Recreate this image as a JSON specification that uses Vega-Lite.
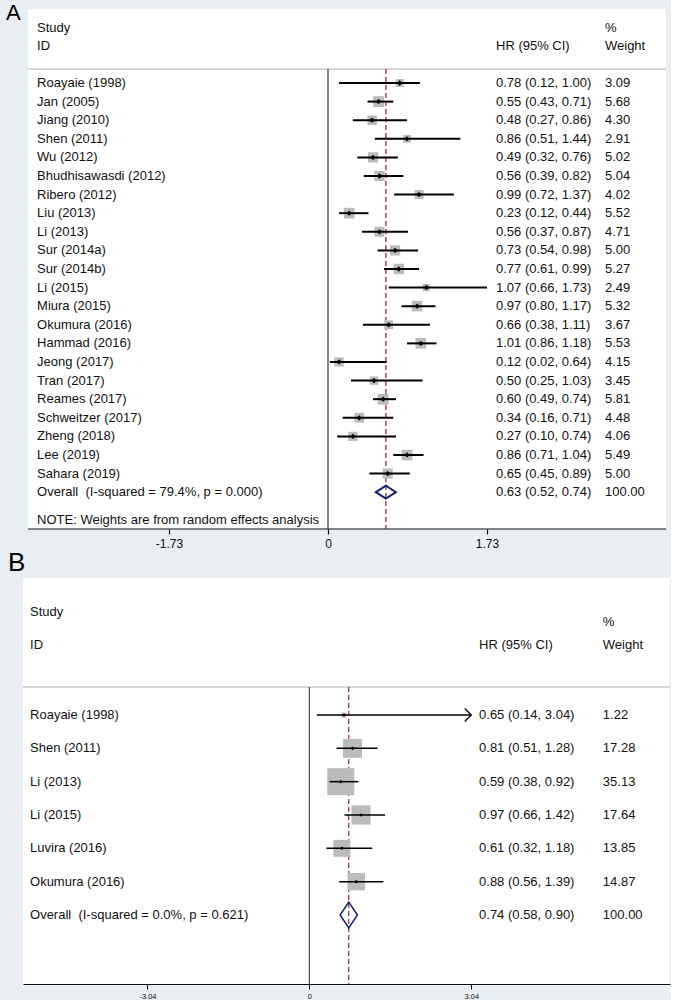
{
  "$schema": "https://vega.github.io/schema/vega-lite/v6.json",
  "background": "#e8eef1",
  "padding": {"left": 5, "top": 1, "right": 0, "bottom": 0},
  "spacing": 0,
  "bounds": "full",
  "config": {
    "view": {"stroke": null, "fill": null},
    "font": "Liberation Sans",
    "text": {"font": "Liberation Sans", "color": "#111111"},
    "axis": {"labelFont": "Liberation Sans", "labelColor": "#111111", "domainColor": "#111111", "tickColor": "#111111", "grid": false, "title": null}
  },
  "datasets": {
    "a": [
      {"row": 1, "kind": "study", "study": "Roayaie (1998)", "hr": 0.78, "lo": 0.12, "hi": 1.00, "w": 3.09, "ci": "0.78 (0.12, 1.00)", "wt": "3.09"},
      {"row": 2, "kind": "study", "study": "Jan (2005)", "hr": 0.55, "lo": 0.43, "hi": 0.71, "w": 5.68, "ci": "0.55 (0.43, 0.71)", "wt": "5.68"},
      {"row": 3, "kind": "study", "study": "Jiang (2010)", "hr": 0.48, "lo": 0.27, "hi": 0.86, "w": 4.30, "ci": "0.48 (0.27, 0.86)", "wt": "4.30"},
      {"row": 4, "kind": "study", "study": "Shen (2011)", "hr": 0.86, "lo": 0.51, "hi": 1.44, "w": 2.91, "ci": "0.86 (0.51, 1.44)", "wt": "2.91"},
      {"row": 5, "kind": "study", "study": "Wu (2012)", "hr": 0.49, "lo": 0.32, "hi": 0.76, "w": 5.02, "ci": "0.49 (0.32, 0.76)", "wt": "5.02"},
      {"row": 6, "kind": "study", "study": "Bhudhisawasdi (2012)", "hr": 0.56, "lo": 0.39, "hi": 0.82, "w": 5.04, "ci": "0.56 (0.39, 0.82)", "wt": "5.04"},
      {"row": 7, "kind": "study", "study": "Ribero (2012)", "hr": 0.99, "lo": 0.72, "hi": 1.37, "w": 4.02, "ci": "0.99 (0.72, 1.37)", "wt": "4.02"},
      {"row": 8, "kind": "study", "study": "Liu (2013)", "hr": 0.23, "lo": 0.12, "hi": 0.44, "w": 5.52, "ci": "0.23 (0.12, 0.44)", "wt": "5.52"},
      {"row": 9, "kind": "study", "study": "Li (2013)", "hr": 0.56, "lo": 0.37, "hi": 0.87, "w": 4.71, "ci": "0.56 (0.37, 0.87)", "wt": "4.71"},
      {"row": 10, "kind": "study", "study": "Sur (2014a)", "hr": 0.73, "lo": 0.54, "hi": 0.98, "w": 5.00, "ci": "0.73 (0.54, 0.98)", "wt": "5.00"},
      {"row": 11, "kind": "study", "study": "Sur (2014b)", "hr": 0.77, "lo": 0.61, "hi": 0.99, "w": 5.27, "ci": "0.77 (0.61, 0.99)", "wt": "5.27"},
      {"row": 12, "kind": "study", "study": "Li (2015)", "hr": 1.07, "lo": 0.66, "hi": 1.73, "w": 2.49, "ci": "1.07 (0.66, 1.73)", "wt": "2.49"},
      {"row": 13, "kind": "study", "study": "Miura (2015)", "hr": 0.97, "lo": 0.80, "hi": 1.17, "w": 5.32, "ci": "0.97 (0.80, 1.17)", "wt": "5.32"},
      {"row": 14, "kind": "study", "study": "Okumura (2016)", "hr": 0.66, "lo": 0.38, "hi": 1.11, "w": 3.67, "ci": "0.66 (0.38, 1.11)", "wt": "3.67"},
      {"row": 15, "kind": "study", "study": "Hammad (2016)", "hr": 1.01, "lo": 0.86, "hi": 1.18, "w": 5.53, "ci": "1.01 (0.86, 1.18)", "wt": "5.53"},
      {"row": 16, "kind": "study", "study": "Jeong (2017)", "hr": 0.12, "lo": 0.02, "hi": 0.64, "w": 4.15, "ci": "0.12 (0.02, 0.64)", "wt": "4.15"},
      {"row": 17, "kind": "study", "study": "Tran (2017)", "hr": 0.50, "lo": 0.25, "hi": 1.03, "w": 3.45, "ci": "0.50 (0.25, 1.03)", "wt": "3.45"},
      {"row": 18, "kind": "study", "study": "Reames (2017)", "hr": 0.60, "lo": 0.49, "hi": 0.74, "w": 5.81, "ci": "0.60 (0.49, 0.74)", "wt": "5.81"},
      {"row": 19, "kind": "study", "study": "Schweitzer (2017)", "hr": 0.34, "lo": 0.16, "hi": 0.71, "w": 4.48, "ci": "0.34 (0.16, 0.71)", "wt": "4.48"},
      {"row": 20, "kind": "study", "study": "Zheng (2018)", "hr": 0.27, "lo": 0.10, "hi": 0.74, "w": 4.06, "ci": "0.27 (0.10, 0.74)", "wt": "4.06"},
      {"row": 21, "kind": "study", "study": "Lee (2019)", "hr": 0.86, "lo": 0.71, "hi": 1.04, "w": 5.49, "ci": "0.86 (0.71, 1.04)", "wt": "5.49"},
      {"row": 22, "kind": "study", "study": "Sahara (2019)", "hr": 0.65, "lo": 0.45, "hi": 0.89, "w": 5.00, "ci": "0.65 (0.45, 0.89)", "wt": "5.00"},
      {"row": 23, "kind": "overall", "study": "Overall\u00a0 (I-squared = 79.4%, p = 0.000)", "hr": 0.63, "lo": 0.52, "hi": 0.74, "w": 100, "ci": "0.63 (0.52, 0.74)", "wt": "100.00"}
    ],
    "b": [
      {"row": 1, "kind": "study", "study": "Roayaie (1998)", "hr": 0.65, "lo": 0.14, "hi": 3.04, "w": 1.22, "ci": "0.65 (0.14, 3.04)", "wt": "1.22"},
      {"row": 2, "kind": "study", "study": "Shen (2011)", "hr": 0.81, "lo": 0.51, "hi": 1.28, "w": 17.28, "ci": "0.81 (0.51, 1.28)", "wt": "17.28"},
      {"row": 3, "kind": "study", "study": "Li (2013)", "hr": 0.59, "lo": 0.38, "hi": 0.92, "w": 35.13, "ci": "0.59 (0.38, 0.92)", "wt": "35.13"},
      {"row": 4, "kind": "study", "study": "Li (2015)", "hr": 0.97, "lo": 0.66, "hi": 1.42, "w": 17.64, "ci": "0.97 (0.66, 1.42)", "wt": "17.64"},
      {"row": 5, "kind": "study", "study": "Luvira (2016)", "hr": 0.61, "lo": 0.32, "hi": 1.18, "w": 13.85, "ci": "0.61 (0.32, 1.18)", "wt": "13.85"},
      {"row": 6, "kind": "study", "study": "Okumura (2016)", "hr": 0.88, "lo": 0.56, "hi": 1.39, "w": 14.87, "ci": "0.88 (0.56, 1.39)", "wt": "14.87"},
      {"row": 7, "kind": "overall", "study": "Overall\u00a0 (I-squared = 0.0%, p = 0.621)", "hr": 0.74, "lo": 0.58, "hi": 0.90, "w": 100, "ci": "0.74 (0.58, 0.90)", "wt": "100.00"}
    ]
  },
  "vconcat": [
    {
      "width": 643,
      "height": 520,
      "data": {"name": "a"},
      "layer": [
        {
          "mark": {"type": "rect", "color": "#ffffff", "opacity": 1},
          "data": {"values": [{}]},
          "encoding": {
            "x": {"datum": -3.264, "type": "quantitative", "scale": {"domain": [-3.319, 3.678], "nice": false, "zero": false},
                  "axis": {"values": [-1.73, 0, 1.73], "labelExpr": "datum.value < 0 ? '-' + format(-datum.value, '.2f') : (datum.value == 0 ? '0' : format(datum.value, '.2f'))", "labelFontSize": 12, "tickSize": 5, "labelPadding": 4, "domain": false, "tickWidth": 1.2}},
            "x2": {"datum": 3.678},
            "y": {"datum": -2.978, "type": "quantitative", "scale": {"domain": [-2.978, 24.98], "reverse": true, "nice": false, "zero": false}, "axis": null},
            "y2": {"datum": 24.98}
          }
        },
        {
          "mark": {"type": "rule", "color": "#111111", "strokeWidth": 1.2},
          "data": {"values": [{}]},
          "encoding": {"x": {"datum": -3.264}, "x2": {"datum": 3.678}, "y": {"datum": 24.98}}
        },
        {
          "mark": {"type": "rule", "color": "#c8c8c8", "strokeWidth": 1.5},
          "data": {"values": [{}]},
          "encoding": {"x": {"datum": -3.264}, "x2": {"datum": 3.678}, "y": {"datum": 0.248}}
        },
        {
          "mark": {"type": "rule", "color": "#333333", "strokeWidth": 1.2},
          "data": {"values": [{}]},
          "encoding": {"x": {"datum": 0}, "y": {"datum": 0.248}, "y2": {"datum": 24.98}}
        },
        {
          "transform": [{"filter": "datum.kind == 'overall'"}],
          "mark": {"type": "rule", "color": "#8e2c3c", "strokeWidth": 1.3, "strokeDash": [5, 3]},
          "encoding": {"x": {"field": "hr", "type": "quantitative"}, "y": {"datum": 0.248}, "y2": {"datum": 24.98}}
        },
        {
          "transform": [{"filter": "datum.kind == 'study'"}],
          "mark": {"type": "square", "color": "#bbbbbb", "opacity": 1},
          "encoding": {
            "x": {"field": "hr", "type": "quantitative"},
            "y": {"field": "row", "type": "quantitative"},
            "size": {"field": "w", "type": "quantitative", "scale": {"type": "linear", "domain": [0, 100], "range": [0, 2070]}, "legend": null}
          }
        },
        {
          "transform": [{"filter": "datum.kind == 'study'"}],
          "mark": {"type": "rule", "color": "#000000", "strokeWidth": 2},
          "encoding": {
            "x": {"field": "lo", "type": "quantitative"},
            "x2": {"field": "hi"},
            "y": {"field": "row", "type": "quantitative"}
          }
        },
        {
          "transform": [{"filter": "datum.kind == 'study'"}],
          "mark": {"type": "point", "shape": "diamond", "filled": true, "color": "#000000", "size": 28, "opacity": 1},
          "encoding": {
            "x": {"field": "hr", "type": "quantitative"},
            "y": {"field": "row", "type": "quantitative"}
          }
        },
        {
          "transform": [{"filter": "datum.kind == 'overall'"}],
          "mark": {"type": "point", "shape": "M-1,0L0,-0.65L1,0L0,0.65Z", "filled": false, "color": "#1a2070", "strokeWidth": 2, "size": 400, "opacity": 1},
          "encoding": {
            "x": {"field": "hr", "type": "quantitative"},
            "y": {"field": "row", "type": "quantitative"}
          }
        },
        {
          "mark": {"type": "text", "align": "left", "baseline": "middle", "fontSize": 13},
          "encoding": {"x": {"datum": -3.166}, "y": {"field": "row", "type": "quantitative"}, "text": {"field": "study"}}
        },
        {
          "mark": {"type": "text", "align": "left", "baseline": "middle", "fontSize": 13},
          "encoding": {"x": {"datum": 1.828}, "y": {"field": "row", "type": "quantitative"}, "text": {"field": "ci"}}
        },
        {
          "mark": {"type": "text", "align": "left", "baseline": "middle", "fontSize": 13},
          "encoding": {"x": {"datum": 3.014}, "y": {"field": "row", "type": "quantitative"}, "text": {"field": "wt"}}
        },
        {
          "data": {"values": [{}]},
          "mark": {"type": "text", "align": "left", "baseline": "middle", "fontSize": 13},
          "encoding": {"x": {"datum": -3.166}, "y": {"datum": -1.957}, "text": {"value": "Study"}}
        },
        {
          "data": {"values": [{}]},
          "mark": {"type": "text", "align": "left", "baseline": "middle", "fontSize": 13},
          "encoding": {"x": {"datum": -3.166}, "y": {"datum": -0.989}, "text": {"value": "ID"}}
        },
        {
          "data": {"values": [{}]},
          "mark": {"type": "text", "align": "left", "baseline": "middle", "fontSize": 13},
          "encoding": {"x": {"datum": 1.828}, "y": {"datum": -0.989}, "text": {"value": "HR (95% CI)"}}
        },
        {
          "data": {"values": [{}]},
          "mark": {"type": "text", "align": "left", "baseline": "middle", "fontSize": 13},
          "encoding": {"x": {"datum": 3.014}, "y": {"datum": -1.957}, "text": {"value": "%"}}
        },
        {
          "data": {"values": [{}]},
          "mark": {"type": "text", "align": "left", "baseline": "middle", "fontSize": 13},
          "encoding": {"x": {"datum": 3.014}, "y": {"datum": -0.989}, "text": {"value": "Weight"}}
        },
        {
          "data": {"values": [{}]},
          "mark": {"type": "text", "align": "left", "baseline": "middle", "fontSize": 13},
          "encoding": {"x": {"datum": -3.166}, "y": {"datum": 24.49}, "text": {"value": "NOTE: Weights are from random effects analysis"}}
        },
        {
          "data": {"values": [{}]},
          "mark": {"type": "text", "align": "left", "baseline": "middle", "fontSize": 22, "color": "#000000"},
          "encoding": {"x": {"datum": -3.504}, "y": {"datum": -2.763}, "text": {"value": "A"}}
        }
      ]
    },
    {
      "width": 647,
      "height": 406,
      "data": {"name": "b"},
      "layer": [
        {
          "mark": {"type": "rect", "color": "#ffffff", "opacity": 1},
          "data": {"values": [{}]},
          "encoding": {
            "x": {"datum": -5.376, "type": "quantitative", "scale": {"domain": [-5.376, 6.771], "nice": false, "zero": false},
                  "axis": {"values": [-3.04, 0, 3.04], "labelExpr": "datum.value < 0 ? '-' + format(-datum.value, '.2f') : (datum.value == 0 ? '0' : format(datum.value, '.2f'))", "labelFontSize": 7.5, "tickSize": 5, "labelPadding": 3, "domainWidth": 1.2, "tickWidth": 1}},
            "x2": {"datum": 6.771},
            "y": {"datum": -3.11, "type": "quantitative", "scale": {"domain": [-3.11, 9.07], "reverse": true, "nice": false, "zero": false}, "axis": null},
            "y2": {"datum": 9.07}
          }
        },
        {
          "mark": {"type": "rule", "color": "#c8c8c8", "strokeWidth": 1.5},
          "data": {"values": [{}]},
          "encoding": {"x": {"datum": -5.376}, "x2": {"datum": 6.771}, "y": {"datum": 0.16}}
        },
        {
          "mark": {"type": "rule", "color": "#333333", "strokeWidth": 1.1},
          "data": {"values": [{}]},
          "encoding": {"x": {"datum": 0}, "y": {"datum": 0.16}, "y2": {"datum": 9.07}}
        },
        {
          "transform": [{"filter": "datum.kind == 'overall'"}],
          "mark": {"type": "rule", "color": "#8e2c3c", "strokeWidth": 1.2, "strokeDash": [5, 3]},
          "encoding": {"x": {"field": "hr", "type": "quantitative"}, "y": {"datum": 0.16}, "y2": {"datum": 9.07}}
        },
        {
          "transform": [{"filter": "datum.kind == 'study'"}],
          "mark": {"type": "square", "color": "#bbbbbb", "opacity": 1},
          "encoding": {
            "x": {"field": "hr", "type": "quantitative"},
            "y": {"field": "row", "type": "quantitative"},
            "size": {"field": "w", "type": "quantitative", "scale": {"type": "linear", "domain": [0, 100], "range": [0, 2070]}, "legend": null}
          }
        },
        {
          "transform": [{"filter": "datum.kind == 'study'"}],
          "mark": {"type": "rule", "color": "#000000", "strokeWidth": 1.5},
          "encoding": {
            "x": {"field": "lo", "type": "quantitative"},
            "x2": {"field": "hi"},
            "y": {"field": "row", "type": "quantitative"}
          }
        },
        {
          "transform": [{"filter": "datum.kind == 'study' && datum.hi >= 3.04"}],
          "mark": {"type": "point", "shape": "M-1,-1L0,0L-1,1", "filled": false, "color": "#000000", "strokeWidth": 1.3, "size": 169, "opacity": 1},
          "encoding": {
            "x": {"field": "hi", "type": "quantitative"},
            "y": {"field": "row", "type": "quantitative"}
          }
        },
        {
          "transform": [{"filter": "datum.kind == 'study'"}],
          "mark": {"type": "point", "shape": "diamond", "filled": true, "color": "#000000", "size": 14, "opacity": 1},
          "encoding": {
            "x": {"field": "hr", "type": "quantitative"},
            "y": {"field": "row", "type": "quantitative"}
          }
        },
        {
          "transform": [{"filter": "datum.kind == 'overall'"}],
          "mark": {"type": "point", "shape": "M-1,0L0,-1.5L1,0L0,1.5Z", "filled": false, "color": "#1a2070", "strokeWidth": 1.5, "size": 300, "opacity": 1},
          "encoding": {
            "x": {"field": "hr", "type": "quantitative"},
            "y": {"field": "row", "type": "quantitative"}
          }
        },
        {
          "mark": {"type": "text", "align": "left", "baseline": "middle", "fontSize": 13},
          "encoding": {"x": {"datum": -5.244}, "y": {"field": "row", "type": "quantitative"}, "text": {"field": "study"}}
        },
        {
          "mark": {"type": "text", "align": "left", "baseline": "middle", "fontSize": 13},
          "encoding": {"x": {"datum": 3.186}, "y": {"field": "row", "type": "quantitative"}, "text": {"field": "ci"}}
        },
        {
          "mark": {"type": "text", "align": "left", "baseline": "middle", "fontSize": 13},
          "encoding": {"x": {"datum": 5.51}, "y": {"field": "row", "type": "quantitative"}, "text": {"field": "wt"}}
        },
        {
          "data": {"values": [{}]},
          "mark": {"type": "text", "align": "left", "baseline": "middle", "fontSize": 13},
          "encoding": {"x": {"datum": -5.244}, "y": {"datum": -2.09}, "text": {"value": "Study"}}
        },
        {
          "data": {"values": [{}]},
          "mark": {"type": "text", "align": "left", "baseline": "middle", "fontSize": 13},
          "encoding": {"x": {"datum": -5.244}, "y": {"datum": -1.10}, "text": {"value": "ID"}}
        },
        {
          "data": {"values": [{}]},
          "mark": {"type": "text", "align": "left", "baseline": "middle", "fontSize": 13},
          "encoding": {"x": {"datum": 3.186}, "y": {"datum": -1.10}, "text": {"value": "HR (95% CI)"}}
        },
        {
          "data": {"values": [{}]},
          "mark": {"type": "text", "align": "left", "baseline": "middle", "fontSize": 13},
          "encoding": {"x": {"datum": 5.51}, "y": {"datum": -1.79}, "text": {"value": "%"}}
        },
        {
          "data": {"values": [{}]},
          "mark": {"type": "text", "align": "left", "baseline": "middle", "fontSize": 13},
          "encoding": {"x": {"datum": 5.51}, "y": {"datum": -1.10}, "text": {"value": "Weight"}}
        },
        {
          "data": {"values": [{}]},
          "mark": {"type": "text", "align": "left", "baseline": "middle", "fontSize": 26, "color": "#000000"},
          "encoding": {"x": {"datum": -5.657}, "y": {"datum": -3.575}, "text": {"value": "B"}}
        }
      ]
    }
  ]
}
